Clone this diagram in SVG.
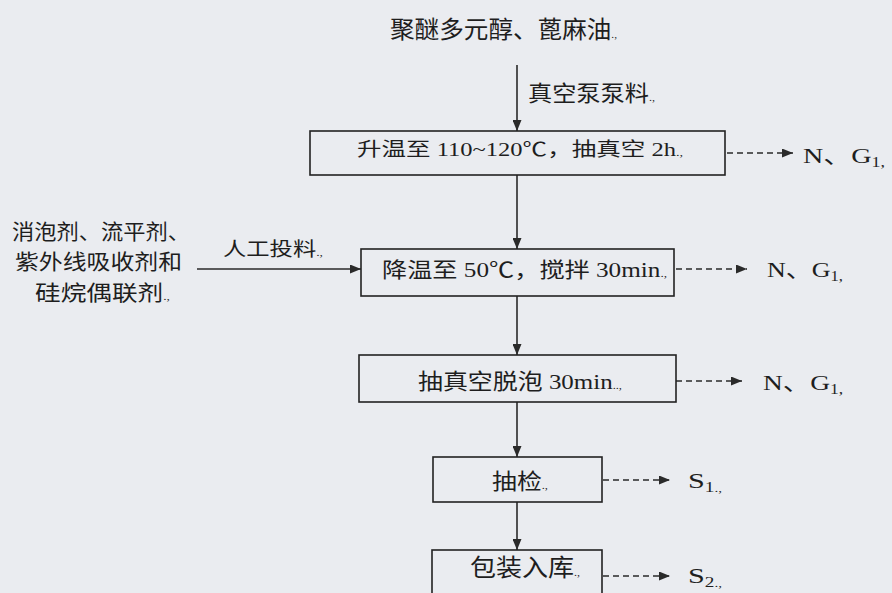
<svg xmlns="http://www.w3.org/2000/svg" width="892" height="593" viewBox="0 0 892 593">
<style>
text{fill:#1e1e1e;font-family:"Noto Sans CJK SC",sans-serif}
.l{font-family:"Liberation Serif","Noto Sans CJK SC",serif}
.m{font-family:"Liberation Serif",serif;font-size:11px}
.box{fill:none;stroke:#222;stroke-width:1.6}
.ln{stroke:#2a2a2a;stroke-width:1.6;fill:none}
.dash{stroke:#2a2a2a;stroke-width:1.6;fill:none;stroke-dasharray:6 4}
</style>
<defs>
<marker id="ah" markerUnits="userSpaceOnUse" markerWidth="11" markerHeight="9" refX="11" refY="4.5" orient="auto">
<path d="M0,0 L11,4.5 L0,9 z" fill="#2a2a2a"/>
</marker>
</defs>
<rect width="892" height="593" fill="#eaecf0"/>

<g id="connectors">
<line class="ln" x1="517" y1="65" x2="517" y2="131" marker-end="url(#ah)"/>
<line class="ln" x1="517" y1="175" x2="517" y2="249" marker-end="url(#ah)"/>
<line class="ln" x1="517" y1="296" x2="517" y2="355" marker-end="url(#ah)"/>
<line class="ln" x1="517" y1="402" x2="517" y2="457" marker-end="url(#ah)"/>
<line class="ln" x1="517" y1="502" x2="517" y2="550" marker-end="url(#ah)"/>
<line class="ln" x1="197" y1="269" x2="361" y2="269" marker-end="url(#ah)"/>
<line class="dash" x1="727" y1="153" x2="793" y2="153" marker-end="url(#ah)"/>
<line class="dash" x1="676" y1="269" x2="747" y2="269" marker-end="url(#ah)"/>
<line class="dash" x1="676" y1="381" x2="742" y2="381" marker-end="url(#ah)"/>
<line class="dash" x1="603" y1="480" x2="670" y2="480" marker-end="url(#ah)"/>
<line class="dash" x1="603" y1="576" x2="670" y2="576" marker-end="url(#ah)"/>
<text x="528" y="101" font-size="22" textLength="127" lengthAdjust="spacingAndGlyphs">真空泵泵料<tspan class="m">.,</tspan></text>
<text x="223" y="256" font-size="19" textLength="100" lengthAdjust="spacingAndGlyphs">人工投料<tspan class="m">.,</tspan></text>
</g>

<g id="input-top">
<text x="390" y="38" font-size="24" textLength="227" lengthAdjust="spacingAndGlyphs">聚醚多元醇、蓖麻油<tspan class="m">.,</tspan></text>
</g>

<g id="input-left">
<text x="12" y="239" font-size="21" textLength="178" lengthAdjust="spacingAndGlyphs">消泡剂、流平剂、</text>
<text x="15" y="269" font-size="21" textLength="167" lengthAdjust="spacingAndGlyphs">紫外线吸收剂和</text>
<text x="35" y="300" font-size="21" textLength="135" lengthAdjust="spacingAndGlyphs">硅烷偶联剂<tspan class="m">.,</tspan></text>
</g>

<g id="step1">
<rect class="box" x="310" y="131" width="415" height="44"/>
<text x="357" y="156" font-size="19" textLength="326" lengthAdjust="spacingAndGlyphs">升温至<tspan class="l"> 110~120℃</tspan>，抽真空<tspan class="l">  2h</tspan><tspan class="m">.,</tspan></text>
</g>

<g id="step2">
<rect class="box" x="361" y="249" width="313" height="47"/>
<text x="382" y="277" font-size="21" textLength="285" lengthAdjust="spacingAndGlyphs">降温至<tspan class="l"> 50℃</tspan>，搅拌<tspan class="l">  30min</tspan><tspan class="m">.,</tspan></text>
</g>

<g id="step3">
<rect class="box" x="359" y="355" width="317" height="47"/>
<text x="418" y="389" font-size="22" textLength="204" lengthAdjust="spacingAndGlyphs">抽真空脱泡<tspan class="l">  30min</tspan><tspan class="m">..,</tspan></text>
</g>

<g id="step4">
<rect class="box" x="433" y="457" width="169" height="45"/>
<text x="492" y="489" font-size="22" textLength="56" lengthAdjust="spacingAndGlyphs">抽检<tspan class="m">.,</tspan></text>
</g>

<g id="step5">
<rect class="box" x="432" y="550" width="170" height="60"/>
<text x="470" y="576" font-size="24" textLength="110" lengthAdjust="spacingAndGlyphs">包装入库<tspan class="m">.,</tspan></text>
</g>

<g id="out1">
<text x="803" y="163" font-size="22" textLength="82" lengthAdjust="spacingAndGlyphs"><tspan class="l">N</tspan>、<tspan class="l">G</tspan><tspan class="l" font-size="14" dy="4">1,</tspan></text>
</g>
<g id="out2">
<text x="767" y="277" font-size="22" textLength="76" lengthAdjust="spacingAndGlyphs"><tspan class="l">N</tspan>、<tspan class="l">G</tspan><tspan class="l" font-size="14" dy="4">1,</tspan></text>
</g>
<g id="out3">
<text x="763" y="390" font-size="22" textLength="80" lengthAdjust="spacingAndGlyphs"><tspan class="l">N</tspan>、<tspan class="l">G</tspan><tspan class="l" font-size="14" dy="4">1,</tspan></text>
</g>
<g id="out4">
<text x="688" y="488" font-size="22" textLength="34" lengthAdjust="spacingAndGlyphs"><tspan class="l">S</tspan><tspan class="l" font-size="14" dy="4">1</tspan><tspan class="m">.,</tspan></text>
</g>
<g id="out5">
<text x="688" y="583" font-size="22" textLength="34" lengthAdjust="spacingAndGlyphs"><tspan class="l">S</tspan><tspan class="l" font-size="14" dy="4">2</tspan><tspan class="m">.,</tspan></text>
</g>
</svg>
